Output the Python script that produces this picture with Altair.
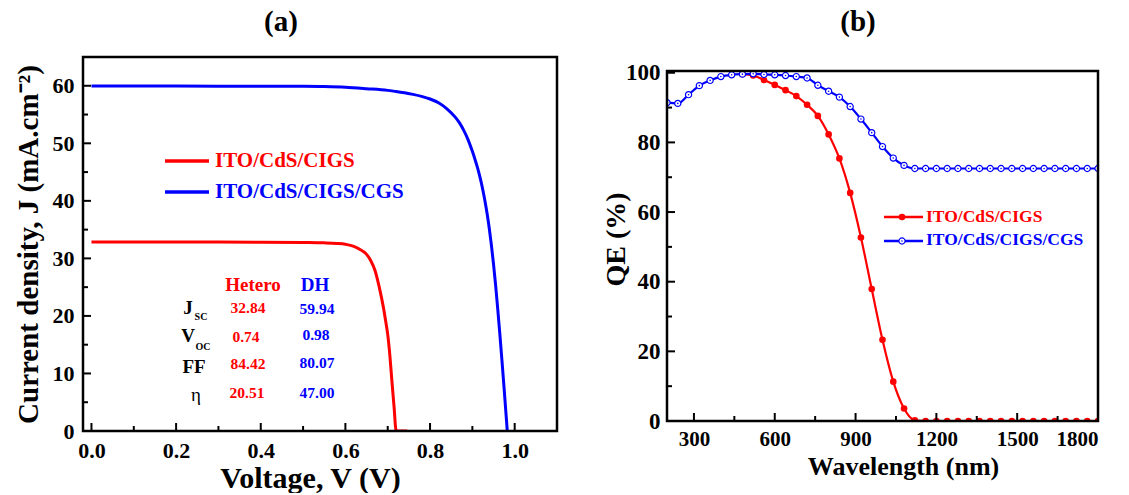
import altair as alt
import pandas as pd

FONT = "Liberation Serif"
RED = "#ff0000"
BLUE = "#0000ff"

# ---------------- data: panel (a) J-V curves ----------------
series_names = ["ITO/CdS/CIGS", "ITO/CdS/CIGS/CGS"]

v_hetero = [0.0, 0.1, 0.2, 0.3, 0.4, 0.5, 0.55, 0.58, 0.6, 0.62, 0.64, 0.65, 0.66,
            0.67, 0.68, 0.69, 0.695, 0.70, 0.705, 0.71, 0.715, 0.72, 0.746]
j_hetero = [32.84, 32.84, 32.83, 32.83, 32.82, 32.76, 32.7, 32.6, 32.45, 32.1, 31.3, 30.7, 29.6,
            27.9, 25.0, 21.4, 19.2, 16.8, 13.2, 8.6, 4.2, 0.0, 0.0]

v_dh = [0.0, 0.1, 0.2, 0.3, 0.4, 0.5, 0.55, 0.6, 0.65, 0.7, 0.72, 0.74, 0.76, 0.78, 0.8, 0.82, 0.84,
        0.86, 0.87, 0.88, 0.89, 0.9, 0.905, 0.91, 0.915, 0.92, 0.925, 0.93, 0.935, 0.94, 0.945,
        0.95, 0.955, 0.96, 0.965, 0.97, 0.975, 0.98, 0.9825]
j_dh = [59.94, 59.94, 59.94, 59.93, 59.92, 59.9, 59.86, 59.75, 59.5, 59.2, 59.0, 58.8, 58.5, 58.15, 57.7,
        57.05, 56.0, 54.5, 53.5, 52.2, 50.6, 48.6, 47.5, 46.3, 45.0, 43.5, 41.8, 39.9, 37.7, 35.2, 32.3,
        29.0, 25.3, 21.2, 16.8, 12.2, 7.4, 2.5, 0.0]

# ---------------- data: parameter table ----------------
table_heads = ["Hetero", "DH"]
param_main = ["J", "V", "FF", "η"]
param_sub = ["SC", "OC"]
hetero_vals = ["32.84", "0.74", "84.42", "20.51"]
dh_vals = ["59.94", "0.98", "80.07", "47.00"]

# ---------------- data: panel (b) QE ----------------
wl_hetero = [480, 520, 560, 600, 640, 680, 720, 760, 800, 840, 880, 920, 960, 1000, 1040, 1080, 1120,
             1160, 1200, 1240, 1280, 1320, 1360, 1400, 1440, 1480, 1520, 1560, 1600, 1640, 1680, 1720, 1760, 1800]
qe_hetero = [99.6, 99.2, 97.9, 96.5, 95.0, 93.3, 90.8, 87.6, 82.3, 75.4, 65.5, 52.7, 37.9, 23.3, 11.3, 3.6, 0.2,
             0.0, 0.0, 0.0, 0.0, 0.0, 0.0, 0.0, 0.0, 0.0, 0.0, 0.0, 0.0, 0.0, 0.0, 0.0, 0.0, 0.0]

wl_dh = [200, 240, 280, 320, 360, 400, 440, 480, 520, 560, 600, 640, 680, 720, 760, 800, 840, 880, 920, 960,
         1000, 1040, 1080, 1120, 1160, 1200, 1240, 1280, 1320, 1360, 1400, 1440, 1480, 1520, 1560, 1600,
         1640, 1680, 1720, 1760, 1800]
qe_dh = [91.4, 91.2, 93.7, 96.3, 97.8, 98.9, 99.4, 99.6, 99.7, 99.5, 99.4, 99.2, 98.9, 98.5, 96.4, 94.7,
         93.0, 90.3, 86.7, 82.8, 78.8, 75.5, 73.4, 72.5, 72.5, 72.5, 72.5, 72.5, 72.5, 72.5, 72.5, 72.5,
         72.5, 72.5, 72.5, 72.5, 72.5, 72.5, 72.5, 72.5, 72.5]

# ---------------- tick values ----------------
a_x_major = [0.0, 0.2, 0.4, 0.6, 0.8, 1.0]
a_x_minor = [0.1, 0.3, 0.5, 0.7, 0.9]
a_y_major = [0, 10, 20, 30, 40, 50, 60]
a_y_minor = [5, 15, 25, 35, 45, 55]
b_x_major = [300, 600, 900, 1200, 1500, 1800]
b_x_minor = [450, 750, 1050, 1350, 1650]
b_y_major = [0, 20, 40, 60, 80, 100]
b_y_minor = [10, 30, 50, 70, 90]

# ---------------- layout ----------------
WA, HA = 474, 374
WB, HB = 431, 350


def one_row():
    return pd.DataFrame({"k": [0]})


def txt(s, x, y, size, color="black", align="center", weight="bold"):
    return alt.Chart(one_row()).mark_text(
        text=s, font=FONT, fontSize=size, fontWeight=weight, color=color,
        align=align, baseline="middle"
    ).encode(x=alt.value(x), y=alt.value(y))


def hseg(x1, x2, y, color, w):
    return alt.Chart(one_row()).mark_rule(color=color, strokeWidth=w).encode(
        x=alt.value(x1), x2=alt.value(x2), y=alt.value(y))


def frame(w, h):
    return alt.Chart(one_row()).mark_rect(fillOpacity=0, stroke="black", strokeWidth=2.5).encode(
        x=alt.value(0), x2=alt.value(w), y=alt.value(0), y2=alt.value(h))


axis_common = dict(grid=False, domain=False, ticks=False, tickSize=0,
                   labelFont=FONT, labelFontWeight="bold", labelColor="black",
                   titleFont=FONT, titleFontWeight="bold", titleColor="black",
                   labelOverlap=False)


def xticks(vals, scale, axis, h, length):
    return alt.Chart(pd.DataFrame({"t": vals})).mark_rule(color="black", strokeWidth=2).encode(
        x=alt.X("t:Q", scale=scale, axis=axis), y=alt.value(h), y2=alt.value(h - length))


def yticks(vals, scale, axis, length):
    return alt.Chart(pd.DataFrame({"t": vals})).mark_rule(color="black", strokeWidth=2).encode(
        y=alt.Y("t:Q", scale=scale, axis=axis), x=alt.value(0), x2=alt.value(length))


# ================= panel (a) =================
xa = alt.Scale(domain=[-0.02, 1.1], nice=False, zero=False)
ya = alt.Scale(domain=[0, 65], nice=False, zero=False)
xa_axis = alt.Axis(values=a_x_major, format=".1f", title="Voltage, V (V)",
                   labelFontSize=22, labelPadding=19, labelBaseline="middle",
                   titleFontSize=30, titleX=227, titleY=47, titleBaseline="middle", **axis_common)
ya_axis = alt.Axis(values=a_y_major, format="d", title="Current density, J (mA.cm⁻²)",
                   labelFontSize=22, labelPadding=9,
                   titleFontSize=29, titleX=-55, titleBaseline="middle", **axis_common)

df_a = pd.DataFrame({
    "V": v_hetero + v_dh,
    "J": j_hetero + j_dh,
    "cell": [series_names[0]] * len(v_hetero) + [series_names[1]] * len(v_dh),
})

lines_a = alt.Chart(df_a).mark_line(strokeWidth=3, clip=True, interpolate="monotone").encode(
    x=alt.X("V:Q", scale=xa, axis=xa_axis),
    y=alt.Y("J:Q", scale=ya, axis=ya_axis),
    color=alt.Color("cell:N", scale=alt.Scale(domain=series_names, range=[RED, BLUE]), legend=None),
)

layers_a = [
    lines_a,
    xticks(a_x_major, xa, xa_axis, HA, 8),
    xticks(a_x_minor, xa, xa_axis, HA, 5),
    yticks(a_y_major, ya, ya_axis, 8),
    yticks(a_y_minor, ya, ya_axis, 5),
    # legend
    hseg(82, 126, 104, RED, 3.5), txt(series_names[0], 132, 104, 21, RED, align="left"),
    hseg(82, 126, 135, BLUE, 3.5), txt(series_names[1], 132, 135, 21, BLUE, align="left"),
    # table
    txt(table_heads[0], 170, 228, 19, RED), txt(table_heads[1], 232, 228, 19, BLUE),
    txt(param_main[0], 105, 251, 19), txt(param_sub[0], 118, 260, 10),
    txt(param_main[1], 105, 279, 19), txt(param_sub[1], 120, 290, 10),
    txt(param_main[2], 111, 310, 19),
    txt(param_main[3], 113, 338, 19, weight="normal"),
    txt(hetero_vals[0], 165, 251, 15.5, RED), txt(dh_vals[0], 234, 252, 15.5, BLUE),
    txt(hetero_vals[1], 163, 280, 15.5, RED), txt(dh_vals[1], 233, 278, 15.5, BLUE),
    txt(hetero_vals[2], 165, 307, 15.5, RED), txt(dh_vals[2], 234, 306, 15.5, BLUE),
    txt(hetero_vals[3], 164, 336, 15.5, RED), txt(dh_vals[3], 234, 336, 15.5, BLUE),
    frame(WA, HA),
]
panel_a = alt.layer(*layers_a).properties(width=WA, height=HA)

# ================= panel (b) =================
xb = alt.Scale(domain=[200, 1800], nice=False, zero=False)
yb = alt.Scale(domain=[0, 100.5], nice=False, zero=False)
xb_axis = alt.Axis(values=b_x_major, format="d", title="Wavelength (nm)",
                   labelFontSize=21, labelPadding=18, labelBaseline="middle",
                   titleFontSize=26, titleX=236, titleY=45, titleBaseline="middle", **axis_common)
yb_axis = alt.Axis(values=b_y_major, format="d", title="QE (%)",
                   labelFontSize=23, labelPadding=7,
                   titleFontSize=28, titleX=-51, titleY=168, titleBaseline="middle", **axis_common)

df_bh = pd.DataFrame({"wl": wl_hetero, "qe": qe_hetero})
df_bd = pd.DataFrame({"wl": wl_dh, "qe": qe_dh})

enc_b = dict(x=alt.X("wl:Q", scale=xb, axis=xb_axis), y=alt.Y("qe:Q", scale=yb, axis=yb_axis))

red_line = alt.Chart(df_bh).mark_line(color=RED, strokeWidth=2.2, clip=True, interpolate="monotone").encode(**enc_b)
red_pts = alt.Chart(df_bh).mark_point(shape="circle", filled=True, fill=RED, stroke=RED, strokeWidth=0,
                                      size=44, opacity=1, clip=True).encode(**enc_b)
blue_line = alt.Chart(df_bd).mark_line(color=BLUE, strokeWidth=2.2, clip=True, interpolate="monotone").encode(**enc_b)
blue_pts = alt.Chart(df_bd).mark_point(shape="circle", filled=True, fill="white", stroke=BLUE,
                                       strokeWidth=1.2, size=38, opacity=1, clip=True).encode(**enc_b)
blue_dots = alt.Chart(df_bd).mark_point(shape="circle", filled=True, fill=BLUE, strokeWidth=0,
                                        size=2.5, opacity=1, clip=True).encode(**enc_b)


def legend_point(x, y, fill, stroke, sw, size):
    return alt.Chart(one_row()).mark_point(shape="circle", filled=True, fill=fill, stroke=stroke,
                                           strokeWidth=sw, size=size, opacity=1).encode(
        x=alt.value(x), y=alt.value(y))


layers_b = [
    red_line, red_pts, blue_line, blue_pts, blue_dots,
    xticks(b_x_major, xb, xb_axis, HB, 8),
    xticks(b_x_minor, xb, xb_axis, HB, 5),
    yticks(b_y_major, yb, yb_axis, 8),
    yticks(b_y_minor, yb, yb_axis, 5),
    hseg(217, 256, 146, RED, 2.5), legend_point(235, 146, RED, RED, 0, 44),
    txt(series_names[0], 259, 146, 17.5, RED, align="left"),
    hseg(217, 256, 170, BLUE, 2.5), legend_point(235, 170, "white", BLUE, 1.2, 38),
    legend_point(235, 170, BLUE, BLUE, 0, 2.5),
    txt(series_names[1], 259, 169, 17.5, BLUE, align="left"),
    frame(WB, HB),
]
panel_b = alt.layer(*layers_b).properties(width=WB, height=HB)

# ================= titles (a), (b) =================
title_a = txt("(a)", 198, 17, 29).properties(width=WA, height=50)
title_b = txt("(b)", 191, 17, 29).properties(width=WB, height=56)

col_a = alt.vconcat(title_a, panel_a, spacing=0)
col_b = alt.vconcat(title_b, panel_b, spacing=0)

chart = alt.hconcat(col_a, col_b, spacing=43).properties(
    padding={"left": 13, "top": 5, "right": 5, "bottom": 0},
    background="white",
).configure_view(strokeWidth=0)

chart.save("out.html", embed_options={"renderer": "svg", "actions": False})
